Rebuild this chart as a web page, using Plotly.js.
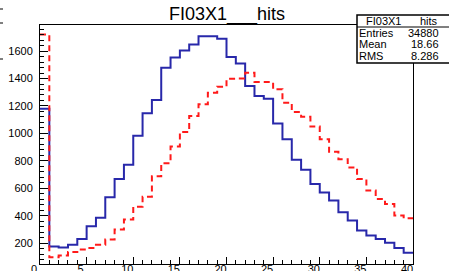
<!DOCTYPE html>
<html>
<head>
<meta charset="utf-8">
<script src="https://cdn.plot.ly/plotly-3.0.1.min.js"></script>
<style>html,body{margin:0;padding:0;background:#fff}#chart{width:449px;height:271px}</style>
</head>
<body>
<div id="chart"></div>
<script>
// bin low edges (width 1)
const binLow = [0,1,2,3,4,5,6,7,8,9,10,11,12,13,14,15,16,17,18,19,20,21,22,23,24,25,26,27,28,29,30,31,32,33,34,35,36,37,38,39];
const binHigh = 40;
// blue solid histogram (FI03X1 hits)
const blueCounts = [1180,176,169,188,231,323,386,534,667,771,982,1147,1243,1478,1553,1604,1648,1708,1708,1689,
                    1556,1510,1345,1272,1253,1072,958,808,735,631,570,510,425,365,292,256,231,202,164,130];
// red dashed histogram
const redCounts = [1720,98,110,135,154,164,188,227,299,372,466,539,687,783,904,1011,1127,1212,1297,1340,
                   1398,1400,1442,1374,1374,1321,1224,1156,1122,1050,958,866,812,752,667,583,522,486,401,382];
const titleText = "FI03X1___hits";
const statsName = "FI03X1", statsVar = "hits";
const statsLabels = ["Entries", "Mean", "RMS"];
const statsValues = ["34880", "18.66", "8.286"];
const xTickVals = [0,5,10,15,20,25,30,35,40];
const yTickVals = [200,400,600,800,1000,1200,1400,1600];

function stepX(){ return binLow.concat([binHigh]); }
function stepY(c){ return c.concat([c[c.length-1]]); }

const W = 449, H = 271, L = 40, R = 36, T = 25, B = 7;
const pw = W - L - R, ph = H - T - B;
const px = v => (v - L) / pw;
const py = v => (H - B - v) / ph;

const traces = [
  {x: stepX(), y: stepY(blueCounts), type:'scatter', mode:'lines',
   line:{shape:'hv', color:'#2828aa', width:2}, hoverinfo:'skip', showlegend:false},
  {x: stepX(), y: stepY(redCounts), type:'scatter', mode:'lines',
   line:{shape:'hv', color:'#ff1a1a', width:2, dash:'6px,4px'}, hoverinfo:'skip', showlegend:false}
];

const font = {family:'"Liberation Sans", Arial, sans-serif', color:'#000'};
const shapes = [
  {type:'rect', xref:'paper', yref:'paper', x0:px(357), x1:px(452), y0:py(63), y1:py(15),
   line:{color:'#000', width:1.5}, fillcolor:'#fff', layer:'above'},
  {type:'line', xref:'paper', yref:'paper', x0:px(357), x1:px(452), y0:py(27), y1:py(27),
   line:{color:'#000', width:1}, layer:'above'},
  {type:'line', xref:'paper', yref:'paper', x0:px(0), x1:px(3), y0:py(9), y1:py(9), line:{color:'#000', width:1}},
  {type:'line', xref:'paper', yref:'paper', x0:px(0), x1:px(3), y0:py(23), y1:py(23), line:{color:'#000', width:1}},
  {type:'line', xref:'paper', yref:'paper', x0:px(0), x1:px(3), y0:py(59), y1:py(59), line:{color:'#000', width:1}}
];
const annotations = [
  {text: statsName, xref:'paper', yref:'paper', x:px(383), y:py(21), xanchor:'center', yanchor:'middle', showarrow:false, font:Object.assign({size:11}, font)},
  {text: statsVar, xref:'paper', yref:'paper', x:px(429), y:py(21), xanchor:'center', yanchor:'middle', showarrow:false, font:Object.assign({size:11}, font)}
];
const rowY = [33, 44, 56];
statsLabels.forEach((lab, i) => {
  annotations.push({text: lab, xref:'paper', yref:'paper', x:px(357), y:py(rowY[i]), xanchor:'left', yanchor:'middle', showarrow:false, font:Object.assign({size:11}, font)});
  annotations.push({text: statsValues[i], xref:'paper', yref:'paper', x:px(441), y:py(rowY[i]), xanchor:'right', yanchor:'middle', showarrow:false, font:Object.assign({size:11}, font)});
});

const layout = {
  width: W, height: H,
  margin: {l:L, r:R, t:T, b:B, pad:0},
  paper_bgcolor:'#fff', plot_bgcolor:'#fff',
  font: font,
  title: {text: titleText, x: 227/W, xref:'container', y: 1 - 14/H, yref:'container', xanchor:'center', yanchor:'middle',
          font:{family:font.family, size:18, color:'#000'}},
  xaxis: {range:[0,40], tickvals:xTickVals, ticktext:xTickVals.map(String), ticks:'inside', ticklen:7, tickwidth:1, tickcolor:'#000',
          minor:{ticks:'inside', dtick:1, ticklen:4, tickwidth:1, tickcolor:'#000', showgrid:false},
          showline:true, linecolor:'#000', linewidth:1, mirror:true, showgrid:false, zeroline:false,
          tickfont:{family:font.family, size:11, color:'#000'}, ticklabelshift:-6, ticklabelstandoff:-5, fixedrange:true},
  yaxis: {range:[48,1790], tickvals:yTickVals, ticktext:yTickVals.map(String), ticks:'inside', ticklen:8, tickwidth:1, tickcolor:'#000',
          minor:{ticks:'inside', dtick:40, tick0:0, ticklen:4, tickwidth:1, tickcolor:'#000', showgrid:false},
          showline:true, linecolor:'#000', linewidth:1, mirror:true, showgrid:false, zeroline:false,
          tickfont:{family:font.family, size:11, color:'#000'}, ticklabelstandoff:4, fixedrange:true},
  shapes: shapes,
  annotations: annotations
};
Plotly.newPlot('chart', traces, layout, {staticPlot:true, displayModeBar:false});
</script>
</body>
</html>
